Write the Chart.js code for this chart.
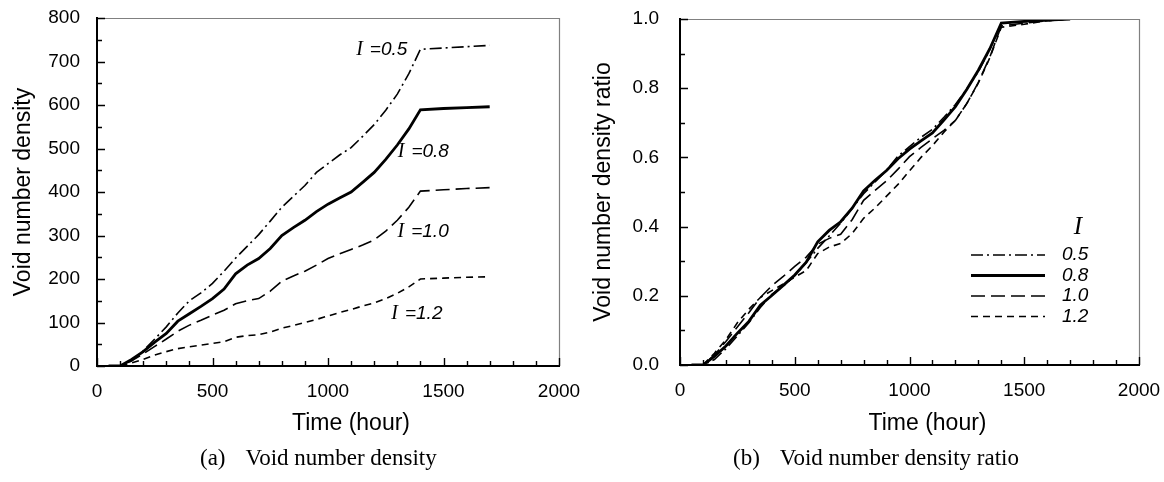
<!DOCTYPE html>
<html>
<head>
<meta charset="utf-8">
<script src="https://cdn.jsdelivr.net/npm/chart.js"></script>
<style>
  body { margin: 0; background: #fff; width: 1164px; height: 482px; position: relative; overflow: hidden; }
  .panel { position: absolute; top: 0; width: 582px; height: 482px; }
  .caption { position: absolute; top: 445px; font-family: "Liberation Serif", serif; font-size: 23px; line-height: 26px; color: #000; white-space: nowrap; }
  .caption span { margin-left: 20px; }
</style>
</head>
<body>
<div class="panel" style="left:0"><canvas id="chartA" width="582" height="482"></canvas></div>
<div class="panel" style="left:582px"><canvas id="chartB" width="582" height="482"></canvas></div>
<div class="caption" style="left:200px">(a)<span>Void number density</span></div>
<div class="caption" style="left:733px">(b)<span>Void number density ratio</span></div>

<script>
// values
const hours = [50, 100, 150, 200, 250, 300, 350, 400, 450, 500, 550, 600, 650, 700, 750, 800,
  850, 900, 950, 1000, 1050, 1100, 1150, 1200, 1250, 1300, 1350, 1400, 1500, 1600, 1700];

const intensities = ["0.5", "0.8", "1.0", "1.2"];

const density05 = [0, 0, 12, 35, 62, 90, 122, 150, 168, 190, 218, 248, 275, 302, 333, 365,
  390, 415, 445, 465, 485, 502, 528, 555, 588, 625, 672, 728, 731, 734, 737];
const density08 = [0, 0, 15, 33, 55, 75, 103, 120, 137, 155, 177, 212, 232, 247, 270, 300,
  318, 335, 355, 372, 386, 400, 422, 445, 475, 508, 545, 589, 592, 594, 596];
const density10 = [0, 0, 12, 28, 45, 62, 80, 94, 105, 117, 128, 143, 150, 155, 172, 195,
  207, 218, 232, 247, 258, 268, 278, 290, 310, 335, 365, 402, 405, 408, 410];
const density12 = [0, 0, 7, 15, 25, 33, 40, 44, 48, 52, 56, 66, 70, 72, 78, 87,
  93, 100, 107, 115, 123, 130, 138, 145, 155, 167, 182, 200, 202, 204, 205];

const ratio05 = [0, 0, 0.016, 0.047, 0.084, 0.122, 0.166, 0.204, 0.228, 0.258, 0.296, 0.337, 0.373, 0.41, 0.452, 0.495,
  0.529, 0.563, 0.604, 0.631, 0.658, 0.681, 0.716, 0.753, 0.798, 0.848, 0.912, 0.988, 0.992, 0.996, 1.0];
const ratio08 = [0, 0, 0.025, 0.055, 0.092, 0.126, 0.173, 0.201, 0.23, 0.26, 0.297, 0.356, 0.389, 0.414, 0.453, 0.503,
  0.534, 0.562, 0.596, 0.624, 0.648, 0.671, 0.708, 0.747, 0.797, 0.852, 0.914, 0.988, 0.993, 0.997, 1.0];
const ratio10 = [0, 0, 0.029, 0.068, 0.11, 0.151, 0.195, 0.229, 0.256, 0.285, 0.312, 0.349, 0.366, 0.378, 0.42, 0.476,
  0.505, 0.532, 0.566, 0.602, 0.629, 0.654, 0.678, 0.707, 0.756, 0.817, 0.89, 0.98, 0.988, 0.995, 1.0];
const ratio12 = [0, 0, 0.034, 0.073, 0.122, 0.161, 0.195, 0.215, 0.234, 0.254, 0.273, 0.322, 0.341, 0.351, 0.38, 0.424,
  0.454, 0.488, 0.522, 0.561, 0.6, 0.634, 0.673, 0.707, 0.756, 0.815, 0.888, 0.976, 0.985, 0.995, 1.0];

const SANS = "'Liberation Sans', Arial, sans-serif";
const SERIF = "'Liberation Serif', 'Times New Roman', serif";

const lineStyles = [
  { borderDash: [12, 4, 2, 4], borderWidth: 1.6 },
  { borderDash: [], borderWidth: 2.8 },
  { borderDash: [14, 6], borderWidth: 1.6 },
  { borderDash: [7, 5], borderWidth: 1.6 },
];

function makeDatasets(seriesList) {
  return seriesList.map((vals, i) => ({
    label: "I = " + intensities[i],
    data: hours.map((h, j) => ({ x: h, y: vals[j] })),
    borderColor: "#000",
    backgroundColor: "#000",
    borderWidth: lineStyles[i].borderWidth,
    borderDash: lineStyles[i].borderDash,
    pointRadius: 0,
    tension: 0,
    fill: false,
  }));
}

// grey frame on top/right plus inward tick marks
const frameTicks = {
  id: "frameTicks",
  afterDraw(chart, args, opts) {
    const { ctx, chartArea: a, scales: { x, y } } = chart;
    ctx.save();
    ctx.strokeStyle = "#808080";
    ctx.lineWidth = 1.2;
    ctx.setLineDash([]);
    ctx.beginPath();
    ctx.moveTo(a.left, a.top + 0.5);
    ctx.lineTo(a.right + 0.5, a.top + 0.5);
    ctx.lineTo(a.right + 0.5, a.bottom);
    ctx.stroke();

    ctx.strokeStyle = "#000";
    ctx.lineWidth = 1.4;
    ctx.beginPath();
    for (let v = 0; v <= 2000; v += 100) {
      const px = Math.round(x.getPixelForValue(v)) + 0.5;
      const len = v % 500 === 0 ? 8 : 5;
      ctx.moveTo(px, a.bottom);
      ctx.lineTo(px, a.bottom - len);
    }
    const n = Math.round((opts.yMax - opts.yMin) / opts.yMinor);
    for (let k = 0; k <= n; k++) {
      const v = opts.yMin + k * opts.yMinor;
      const py = Math.round(y.getPixelForValue(v)) + 0.5;
      const len = k % 2 === 0 ? 8 : 5;
      ctx.moveTo(a.left, py);
      ctx.lineTo(a.left + len, py);
    }
    ctx.stroke();

    // x axis title
    ctx.fillStyle = "#000";
    ctx.font = "23px " + SANS;
    ctx.textAlign = "center";
    ctx.textBaseline = "middle";
    ctx.fillText("Time (hour)", (a.left + a.right) / 2 + opts.titleShift, 424);
    ctx.restore();
  },
};

function drawItalicLabel(ctx, text, px, py, size) {
  ctx.font = "italic " + (size + 1) + "px " + SERIF;
  ctx.textAlign = "left";
  ctx.textBaseline = "middle";
  ctx.fillText("I", px, py);
  const w = ctx.measureText("I ").width;
  ctx.font = "italic " + size + "px " + SANS;
  ctx.fillText(text, px + w + 2, py);
}

// curve labels on panel (a)
const curveLabels = {
  id: "curveLabels",
  afterDraw(chart, args, opts) {
    if (!opts.items) return;
    const { ctx, scales: { x, y } } = chart;
    ctx.save();
    ctx.fillStyle = "#000";
    opts.items.forEach(it => {
      drawItalicLabel(ctx, "=" + it.text, x.getPixelForValue(it.x), y.getPixelForValue(it.y), 19);
    });
    ctx.restore();
  },
};

// legend box inside panel (b)
const insideLegend = {
  id: "insideLegend",
  afterDraw(chart, args, opts) {
    if (!opts.show) return;
    const { ctx } = chart;
    ctx.save();
    ctx.fillStyle = "#000";
    ctx.font = "italic 25px " + SERIF;
    ctx.textAlign = "center";
    ctx.textBaseline = "middle";
    ctx.fillText("I", opts.x + 107, opts.y - 28);
    chart.data.datasets.forEach((ds, i) => {
      const yy = opts.y + i * 20.5;
      ctx.strokeStyle = "#000";
      ctx.lineWidth = ds.borderWidth;
      ctx.setLineDash(ds.borderDash);
      ctx.beginPath();
      ctx.moveTo(opts.x, yy);
      ctx.lineTo(opts.x + 74, yy);
      ctx.stroke();
      ctx.setLineDash([]);
      ctx.font = "italic 19px " + SANS;
      ctx.textAlign = "left";
      ctx.fillText(intensities[i], opts.x + 91, yy);
    });
    ctx.restore();
  },
};

function makeChart(id, datasets, cfg) {
  return new Chart(document.getElementById(id), {
    type: "line",
    data: { datasets },
    options: {
      responsive: false,
      animation: false,
      layout: { padding: { left: 0, top: cfg.top, right: cfg.right, bottom: 0 } },
      plugins: {
        legend: { display: false },
        tooltip: { enabled: false },
        frameTicks: { yMin: cfg.yMin, yMax: cfg.yMax, yMinor: cfg.yMinor, titleShift: cfg.titleShift },
        curveLabels: { items: cfg.labels },
        insideLegend: cfg.legend,
      },
      scales: {
        x: {
          type: "linear",
          min: 0,
          max: 2000,
          afterFit: s => { s.height = cfg.xHeight; s.paddingLeft = 0; s.paddingRight = 0; },
          ticks: {
            stepSize: 500, padding: 14, color: "#000", maxRotation: 0,
            font: { family: SANS, size: 19 },
            callback: v => String(v),
          },
          grid: { display: true, drawOnChartArea: false, drawTicks: false },
          border: { display: true, color: "#000", width: 2 },
        },
        y: {
          min: cfg.yMin,
          max: cfg.yMax,
          afterFit: s => { s.width = cfg.yWidth; s.paddingTop = 0; s.paddingBottom = 0; },
          ticks: {
            stepSize: cfg.yStep,
            padding: cfg.yPad,
            color: "#000",
            font: { family: SANS, size: 19 },
            callback: v => cfg.yFmt(v),
          },
          grid: { display: true, drawOnChartArea: false, drawTicks: false },
          border: { display: true, color: "#000", width: 2 },
          title: {
            display: true,
            text: cfg.yTitle,
            color: "#000",
            font: { family: SANS, size: 23 },
            padding: { top: cfg.yTitlePad, bottom: 0 },
          },
        },
      },
    },
    plugins: [frameTicks, curveLabels, insideLegend],
  });
}

makeChart("chartA", makeDatasets([density05, density08, density10, density12]), {
  top: 18, right: 23, xHeight: 116, yWidth: 97, yPad: 17, yTitlePad: 10,
  yMin: 0, yMax: 800, yStep: 100, yMinor: 50, titleShift: 23,
  yFmt: v => String(v),
  yTitle: "Void number density",
  labels: [
    { text: "0.5", x: 1122, y: 726 },
    { text: "0.8", x: 1302, y: 492 },
    { text: "1.0", x: 1301, y: 308 },
    { text: "1.2", x: 1274, y: 120 },
  ],
  legend: { show: false },
});

makeChart("chartB", makeDatasets([ratio05, ratio08, ratio10, ratio12]), {
  top: 19, right: 25, xHeight: 117, yWidth: 98, yPad: 21, yTitlePad: 8,
  yMin: 0, yMax: 1, yStep: 0.2, yMinor: 0.1, titleShift: 18,
  yFmt: v => Number(v).toFixed(1),
  yTitle: "Void number density ratio",
  labels: null,
  legend: { show: true, x: 389, y: 255 },
});
</script>
</body>
</html>
